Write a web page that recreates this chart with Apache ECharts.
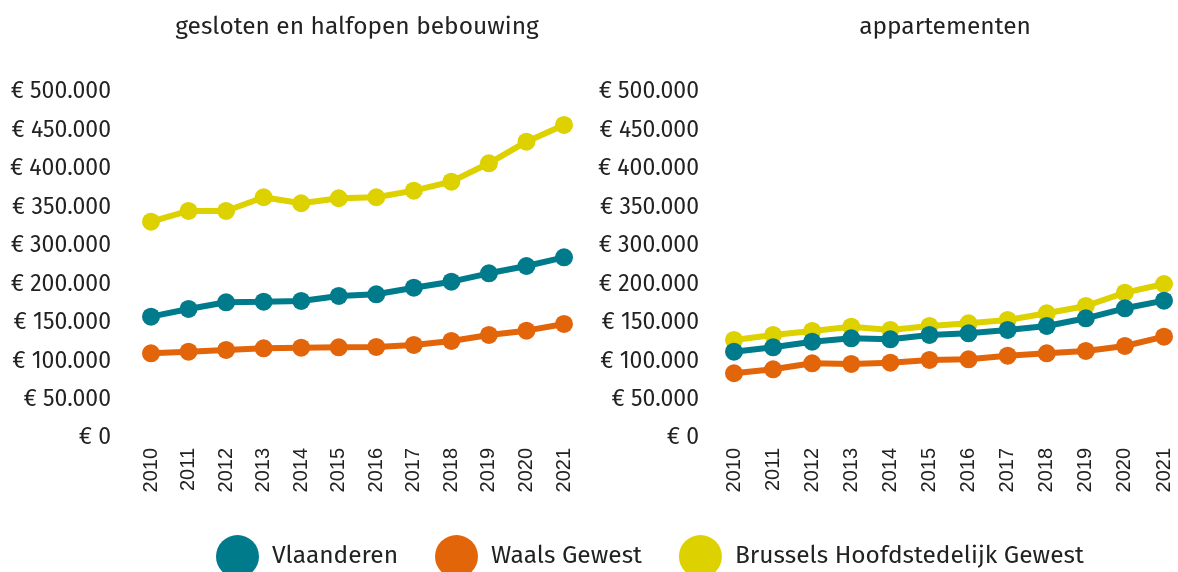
<!DOCTYPE html>
<html>
<head>
<meta charset="utf-8">
<script src="https://cdn.jsdelivr.net/npm/echarts@6/dist/echarts.min.js"></script>
<style>
html,body{margin:0;padding:0;background:#fff;}
#chart{width:1178px;height:572px;}
</style>
</head>
<body>
<div id="chart"></div>
<script>
// Categories (years)
var years = ['2010','2011','2012','2013','2014','2015','2016','2017','2018','2019','2020','2021'];

// Tick labels exactly as printed on the reference axis (one per 50 axis units)
var tickLabels = ['€ 0','€ 50.000','€ 100.000','€ 150.000','€ 200.000','€ 300.000','€ 350.000','€ 400.000','€ 450.000','€ 500.000'];

// Values in axis units (thousands, as plotted) — panel 1: gesloten en halfopen bebouwing
var housesVlaanderen = [157.8,167.8,176.5,177.3,178.2,184.7,186.9,195.5,203.3,214.2,223.7,235.0];
var housesWallonie   = [110.2,112.3,114.5,116.7,117.5,118.0,118.4,121.0,126.2,134.0,139.6,148.3];
var housesBrussel    = [281.3,295.3,295.3,313.1,305.3,311.8,313.1,321.7,333.4,357.3,385.4,407.1];

// Panel 2: appartementen
var aptVlaanderen = [112.3,118.0,125.3,129.7,128.4,134.0,136.2,140.5,145.7,155.7,168.7,178.6];
var aptWallonie   = [84.2,89.4,97.2,96.3,98.0,101.5,102.4,107.1,110.2,113.2,119.7,131.8];
var aptBrussel    = [127.5,134.0,139.2,144.8,140.5,145.7,149.2,153.5,162.2,171.7,189.0,200.3];

var seriesNames = ['Vlaanderen','Waals Gewest','Brussels Hoofdstedelijk Gewest'];
var colors = ['#007b8c','#e3650a','#ddd100'];
var titles = ['gesloten en halfopen bebouwing','appartementen'];

var fontMain = '"Fira Sans","Noto Sans","Open Sans",sans-serif';

function yAxis(gridIndex, margin){
  return {
    type:'value', gridIndex:gridIndex, min:0, max:450, interval:50,
    splitLine:{show:false}, axisLine:{show:false}, axisTick:{show:false},
    axisLabel:{
      margin:margin, fontSize:23, color:'#222', fontFamily:fontMain,
      formatter:function(v){ return tickLabels[Math.round(v/50)]; }
    }
  };
}
function xAxis(gridIndex){
  return {
    type:'category', gridIndex:gridIndex, data:years, boundaryGap:false,
    axisLine:{show:false}, axisTick:{show:false}, splitLine:{show:false},
    axisLabel:{rotate:90, margin:10, fontSize:20, color:'#222', fontFamily:'"Liberation Sans",Arial,sans-serif', interval:0}
  };
}
function line(name, data, idx, gi){
  return {
    name:name, type:'line', xAxisIndex:gi, yAxisIndex:gi, data:data,
    symbol:'circle', symbolSize:18, lineStyle:{width:6, color:colors[idx]},
    itemStyle:{color:colors[idx]}, emphasis:{disabled:true}, animation:false, z:10-idx
  };
}

var chart = echarts.init(document.getElementById('chart'));
chart.setOption({
  animation:false,
  title:[
    {text:titles[0], left:352, top:10, textAlign:'center', textStyle:{fontSize:24.5, fontWeight:'normal', color:'#222', fontFamily:fontMain}},
    {text:titles[1], left:940, top:10, textAlign:'center', textStyle:{fontSize:24.5, fontWeight:'normal', color:'#222', fontFamily:fontMain}}
  ],
  legend:{
    data:seriesNames, left:211, top:530, icon:'circle', itemWidth:43, itemHeight:43, itemGap:37,
    textStyle:{fontSize:24.5, color:'#222', fontFamily:fontMain, padding:[0,0,0,8]}
  },
  grid:[
    {left:151, right:614, top:92, bottom:134},
    {left:734, right:14, top:92, bottom:134}
  ],
  xAxis:[xAxis(0), xAxis(1)],
  yAxis:[yAxis(0,40), yAxis(1,35)],
  series:[
    line(seriesNames[0], housesVlaanderen, 0, 0),
    line(seriesNames[1], housesWallonie, 1, 0),
    line(seriesNames[2], housesBrussel, 2, 0),
    line(seriesNames[0], aptVlaanderen, 0, 1),
    line(seriesNames[1], aptWallonie, 1, 1),
    line(seriesNames[2], aptBrussel, 2, 1)
  ]
});
</script>
</body>
</html>
